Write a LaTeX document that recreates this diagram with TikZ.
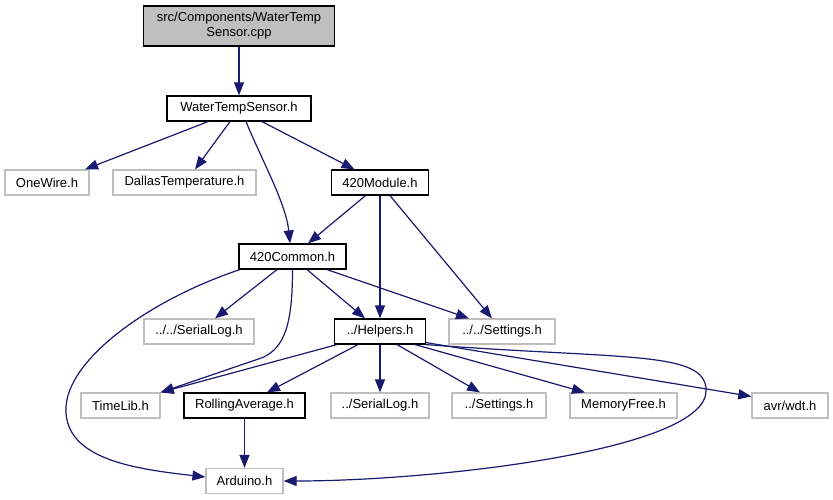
\documentclass[tikz,border=0pt]{standalone}
\usepackage{fontspec}
\setmainfont{Liberation Sans}
\usepackage{tikz}
\usetikzlibrary{arrows.meta}
\definecolor{edgeblue}{RGB}{25,25,112}
\definecolor{boxgray}{RGB}{191,191,191}
\tikzset{
  file/.style={rectangle,draw=black,line width=1.2pt,minimum height=25pt,inner sep=0pt,
    font=\fontsize{13}{15}\selectfont},
  extfile/.style={file,draw=boxgray},
  srcfile/.style={file,fill=boxgray,minimum height=40pt,align=center},
  inc/.style={-{Triangle[length=13pt,width=10pt]},line width=1.2pt,draw=edgeblue}
}

\begin{document}
\begin{tikzpicture}[x=1pt,y=-1pt]
\useasboundingbox (0,0) rectangle (833,500);

\node[srcfile,minimum width=191pt] (cpp) at (239,26) {src/Components/WaterTemp\\Sensor.cpp};
\node[file,minimum width=144pt] (wts) at (239,108.5) {WaterTempSensor.h};

\node[extfile,minimum width=84pt]  (onewire) at (47,182.5) {OneWire.h};
\node[extfile,minimum width=143pt] (dallas)  at (184.5,182.5) {DallasTemperature.h};
\node[file,minimum width=97pt]     (module)  at (380,182.5) {420Module.h};

\node[file,minimum width=107pt] (common) at (292.5,256.5) {420Common.h};

\node[extfile,minimum width=110pt] (seriallogup)  at (199,331.5) {../../SerialLog.h};
\node[file,minimum width=91pt]     (helpers)      at (380,331.5) {../Helpers.h};
\node[extfile,minimum width=106pt] (settingsup)   at (502,331.5) {../../Settings.h};

\node[extfile,minimum width=79pt]  (timelib)   at (120.5,405.5) {TimeLib.h};
\node[file,minimum width=121pt]    (rolling)   at (244.5,405.5) {RollingAverage.h};
\node[extfile,minimum width=98pt]  (seriallog) at (380,405.5) {../SerialLog.h};
\node[extfile,minimum width=94pt]  (settings)  at (499,405.5) {../Settings.h};
\node[extfile,minimum width=107pt] (memfree)   at (623.5,405.5) {MemoryFree.h};
\node[extfile,minimum width=76pt]  (wdt)       at (790,405.5) {avr/wdt.h};

\node[extfile,minimum width=77pt] (arduino) at (244.5,481) {Arduino.h};

% source file and its header
\draw[inc] (cpp.south) -- (wts.north);
\draw[inc] ([xshift=-31pt]wts.south) -- ([xshift=38pt]onewire.north);
\draw[inc] ([xshift=-9pt]wts.south) -- ([xshift=10.5pt]dallas.north);
\draw[inc] ([xshift=7pt]wts.south) .. controls +(16,39) and +(-4,-40) .. ([xshift=-2.5pt]common.north);
\draw[inc] ([xshift=23pt]wts.south) -- ([xshift=-25.5pt]module.north);

% 420Module.h
\draw[inc] ([xshift=-14.5pt]module.south) -- ([xshift=15.5pt]common.north);
\draw[inc] (module.south) -- (helpers.north);
\draw[inc] ([xshift=10pt]module.south) -- ([xshift=-10pt]settingsup.north);

% 420Common.h
\draw[inc] ([xshift=-15.5pt]common.south) -- ([xshift=16pt]seriallogup.north);
\draw[inc] ([xshift=14.5pt]common.south) -- ([xshift=-15pt]helpers.north);
\draw[inc] ([xshift=34.5pt]common.south) -- ([xshift=-33pt]settingsup.north);
\draw[inc] (common.south) .. controls +(0,55) and +(22,-10) .. ++(-30,88) -- (timelib.north east);
\draw[inc] ([xshift=1.5pt]common.south west) .. controls +(-90,30) and +(0,-50) .. ++(-174,140)
  .. controls +(0,50) and +(-70,-8) .. ([yshift=4pt]arduino.west);

% ../Helpers.h
\draw[inc] ([xshift=3pt]helpers.south west) -- (timelib.north east);
\draw[inc] ([xshift=-22pt]helpers.south) -- ([xshift=22.5pt]rolling.north);
\draw[inc] (helpers.south) -- (seriallog.north);
\draw[inc] ([xshift=17pt]helpers.south) -- ([xshift=-19pt]settings.north);
\draw[inc] ([xshift=35pt]helpers.south) -- ([xshift=-38.5pt]memfree.north);
\draw[inc] ([yshift=2pt]helpers.south east) -- ([yshift=-4pt]wdt.north west);
\draw[inc] (helpers.south east) .. controls +(200,15) and +(0,-40) .. ++(280,46)
  .. controls +(0,60) and +(150,0) .. (arduino.east);

\draw[inc] (rolling.south) -- (arduino.north);
\end{tikzpicture}
\end{document}
